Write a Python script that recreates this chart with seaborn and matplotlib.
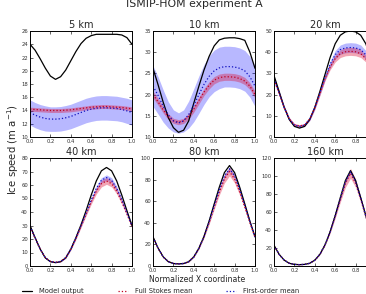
import matplotlib
matplotlib.use("Agg")
import matplotlib.pyplot as plt
import seaborn as sns

# normalized x coordinate along the flow line
x_norm = [0.0, 0.05, 0.1, 0.15, 0.2, 0.25, 0.3, 0.35, 0.4, 0.45, 0.5,
          0.55, 0.6, 0.65, 0.7, 0.75, 0.8, 0.85, 0.9, 0.95, 1.0]

lengths = ["5 km", "10 km", "20 km", "40 km", "80 km", "160 km"]

# 5 km
u5_model = [24.0, 23.1, 21.8, 20.4, 19.2, 18.7, 19.1, 20.1, 21.5, 22.9, 24.1,
            24.9, 25.3, 25.5, 25.5, 25.5, 25.5, 25.5, 25.4, 25.0, 24.0]
u5_fs = [14.2, 14.15, 14.1, 14.05, 14.0, 14.0, 14.0, 14.05, 14.1, 14.2, 14.3,
         14.4, 14.5, 14.55, 14.6, 14.6, 14.55, 14.5, 14.45, 14.35, 14.25]
u5_fs_sd = [0.3, 0.3, 0.3, 0.3, 0.3, 0.3, 0.3, 0.3, 0.3, 0.3, 0.3,
            0.3, 0.3, 0.3, 0.3, 0.3, 0.3, 0.3, 0.3, 0.3, 0.3]
u5_fo = [13.7, 13.3, 13.0, 12.8, 12.7, 12.7, 12.75, 12.9, 13.1, 13.4, 13.7,
         14.0, 14.2, 14.35, 14.4, 14.4, 14.35, 14.3, 14.15, 13.95, 13.7]
u5_fo_sd = [1.9, 1.9, 1.9, 1.9, 1.85, 1.85, 1.85, 1.85, 1.85, 1.85, 1.85,
            1.85, 1.85, 1.85, 1.85, 1.85, 1.85, 1.85, 1.85, 1.9, 1.9]

# 10 km
u10_model = [26.2, 22.3, 18.2, 14.6, 12.2, 11.1, 11.6, 13.8, 18.0, 22.0, 25.8,
             29.0, 31.5, 32.9, 33.3, 33.4, 33.4, 33.2, 32.8, 30.0, 26.2]
u10_fs = [20.0, 18.3, 16.4, 14.8, 13.8, 13.5, 13.8, 14.9, 16.6, 18.6, 20.6,
          22.2, 23.4, 24.0, 24.2, 24.2, 24.1, 23.8, 23.2, 22.0, 20.0]
u10_fs_sd = [0.8, 0.8, 0.75, 0.7, 0.6, 0.6, 0.6, 0.7, 0.75, 0.8, 0.8,
             0.85, 0.85, 0.85, 0.85, 0.85, 0.85, 0.85, 0.85, 0.8, 0.8]
u10_fo = [22.0, 19.8, 17.3, 15.2, 13.8, 13.3, 13.8, 15.3, 17.5, 20.0, 22.4,
          24.3, 25.6, 26.3, 26.6, 26.6, 26.5, 26.2, 25.6, 24.2, 22.0]
u10_fo_sd = [4.8, 4.4, 3.8, 3.1, 2.6, 2.4, 2.6, 3.2, 3.9, 4.4, 4.7,
             4.8, 4.9, 4.9, 4.8, 4.8, 4.8, 4.8, 4.8, 4.8, 4.8]

# 20 km
u20_model = [29.0, 21.5, 14.0, 8.2, 5.0, 4.2, 5.0, 8.2, 14.0, 21.5, 29.5,
             37.5, 44.0, 48.0, 49.6, 50.0, 49.6, 48.0, 44.0, 37.0, 29.0]
u20_fs = [27.0, 20.5, 13.8, 8.5, 5.8, 5.2, 5.8, 8.5, 13.8, 20.5, 27.5,
          33.0, 37.0, 39.3, 40.2, 40.4, 40.2, 39.3, 37.0, 33.0, 27.0]
u20_fs_sd = [1.0, 0.9, 0.8, 0.7, 0.6, 0.6, 0.6, 0.7, 0.8, 0.9, 1.0,
             1.3, 1.6, 1.8, 1.9, 1.9, 1.9, 1.8, 1.6, 1.3, 1.0]
u20_fo = [27.5, 20.8, 13.9, 8.4, 5.6, 5.0, 5.6, 8.4, 13.9, 20.8, 28.0,
          34.2, 38.8, 41.2, 42.0, 42.2, 42.0, 41.2, 38.8, 34.2, 27.5]
u20_fo_sd = [1.2, 1.0, 0.9, 0.7, 0.6, 0.6, 0.6, 0.7, 0.9, 1.0, 1.2,
             1.6, 2.0, 2.2, 2.3, 2.3, 2.3, 2.2, 2.0, 1.6, 1.2]

# 40 km
u40_model = [30.0, 21.0, 12.5, 6.0, 3.2, 2.5, 3.2, 6.0, 12.5, 21.0, 30.5,
             41.0, 52.5, 63.0, 70.5, 73.0, 70.5, 63.0, 52.5, 41.0, 30.0]
u40_fs = [29.0, 20.5, 12.4, 6.2, 3.4, 2.8, 3.4, 6.2, 12.4, 20.5, 29.5,
          38.5, 47.5, 55.5, 61.0, 63.0, 61.0, 55.5, 47.5, 38.5, 29.0]
u40_fs_sd = [1.0, 0.8, 0.6, 0.5, 0.4, 0.4, 0.4, 0.5, 0.6, 0.8, 1.0,
             1.3, 1.7, 2.1, 2.4, 2.5, 2.4, 2.1, 1.7, 1.3, 1.0]
u40_fo = [29.5, 20.8, 12.5, 6.1, 3.3, 2.7, 3.3, 6.1, 12.5, 20.8, 30.0,
          39.5, 49.0, 57.5, 63.5, 65.5, 63.5, 57.5, 49.0, 39.5, 29.5]
u40_fo_sd = [0.8, 0.6, 0.5, 0.4, 0.3, 0.3, 0.3, 0.4, 0.5, 0.6, 0.8,
             1.0, 1.3, 1.6, 1.9, 2.0, 1.9, 1.6, 1.3, 1.0, 0.8]

# 80 km
u80_model = [27.0, 16.5, 8.5, 4.0, 2.3, 2.0, 2.3, 4.0, 8.5, 16.5, 27.5,
             41.5, 57.5, 73.0, 86.5, 93.0, 86.5, 73.0, 57.5, 41.5, 27.0]
u80_fs = [26.5, 16.3, 8.4, 4.0, 2.4, 2.1, 2.4, 4.0, 8.4, 16.3, 27.0,
          40.0, 54.5, 68.5, 80.5, 87.5, 80.5, 68.5, 54.5, 40.0, 26.5]
u80_fs_sd = [0.8, 0.6, 0.4, 0.3, 0.2, 0.2, 0.2, 0.3, 0.4, 0.6, 0.8,
             1.3, 2.0, 2.8, 3.6, 4.0, 3.6, 2.8, 2.0, 1.3, 0.8]
u80_fo = [26.8, 16.4, 8.4, 4.0, 2.3, 2.0, 2.3, 4.0, 8.4, 16.4, 27.2,
          41.0, 56.0, 71.0, 83.5, 90.0, 83.5, 71.0, 56.0, 41.0, 26.8]
u80_fo_sd = [0.5, 0.4, 0.3, 0.2, 0.2, 0.2, 0.2, 0.2, 0.3, 0.4, 0.5,
             0.7, 1.0, 1.3, 1.6, 1.8, 1.6, 1.3, 1.0, 0.7, 0.5]

# 160 km
u160_model = [23.0, 13.0, 6.5, 3.0, 1.8, 1.5, 1.8, 3.0, 6.5, 13.0, 23.5,
              38.0, 56.0, 76.0, 95.0, 106.0, 95.0, 76.0, 56.0, 38.0, 23.0]
u160_fs = [22.8, 12.9, 6.5, 3.0, 1.8, 1.5, 1.8, 3.0, 6.5, 12.9, 23.3,
           37.5, 55.0, 74.0, 92.0, 103.0, 92.0, 74.0, 55.0, 37.5, 22.8]
u160_fs_sd = [0.5, 0.3, 0.2, 0.1, 0.1, 0.1, 0.1, 0.1, 0.2, 0.3, 0.5,
              1.0, 1.8, 3.0, 4.5, 5.5, 4.5, 3.0, 1.8, 1.0, 0.5]
u160_fo = [22.9, 13.0, 6.5, 3.0, 1.8, 1.5, 1.8, 3.0, 6.5, 13.0, 23.4,
           37.8, 55.6, 75.2, 93.8, 105.0, 93.8, 75.2, 55.6, 37.8, 22.9]
u160_fo_sd = [0.3, 0.2, 0.1, 0.1, 0.1, 0.1, 0.1, 0.1, 0.1, 0.2, 0.3,
              0.5, 0.8, 1.2, 1.6, 2.0, 1.6, 1.2, 0.8, 0.5, 0.3]

y_limits = [(10, 26), (10, 35), (0, 50), (0, 80), (0, 100), (0, 120)]
y_steps = [2, 5, 10, 10, 20, 20]

panels = [
    (u5_model, u5_fs, u5_fs_sd, u5_fo, u5_fo_sd),
    (u10_model, u10_fs, u10_fs_sd, u10_fo, u10_fo_sd),
    (u20_model, u20_fs, u20_fs_sd, u20_fo, u20_fo_sd),
    (u40_model, u40_fs, u40_fs_sd, u40_fo, u40_fo_sd),
    (u80_model, u80_fs, u80_fs_sd, u80_fo, u80_fo_sd),
    (u160_model, u160_fs, u160_fs_sd, u160_fo, u160_fo_sd),
]

sns.set_style("ticks")
plt.rcParams["font.family"] = ["DejaVu Sans"]
plt.rcParams["xtick.direction"] = "in"
plt.rcParams["ytick.direction"] = "in"
plt.rcParams["xtick.top"] = True
plt.rcParams["ytick.right"] = True

W, H = 366, 294
fig = plt.figure(figsize=(W / 100, H / 100), dpi=100)

lefts = [30, 153, 274]
tops = [31, 158]
heights = [106, 108]
pw = 102

axes = []
for i in range(6):
    r, c = divmod(i, 3)
    ax = fig.add_axes([lefts[c] / W, 1 - (tops[r] + heights[r]) / H,
                       pw / W, heights[r] / H])
    axes.append(ax)

for ax, name, (model, fs, fs_sd, fo, fo_sd), ylim, ystep in zip(
        axes, lengths, panels, y_limits, y_steps):
    fo_lo = [m - s for m, s in zip(fo, fo_sd)]
    fo_hi = [m + s for m, s in zip(fo, fo_sd)]
    fs_lo = [m - s for m, s in zip(fs, fs_sd)]
    fs_hi = [m + s for m, s in zip(fs, fs_sd)]
    ax.fill_between(x_norm, fo_lo, fo_hi, color="blue", alpha=0.28, lw=0)
    ax.fill_between(x_norm, fs_lo, fs_hi, color="crimson", alpha=0.38, lw=0)
    sns.lineplot(x=x_norm, y=model, ax=ax, color="black", lw=0.9,
                 label="Model output", legend=False)
    sns.lineplot(x=x_norm, y=fs, ax=ax, color="#c00020", lw=0.9,
                 linestyle=":", label="Full Stokes mean", legend=False)
    sns.lineplot(x=x_norm, y=fo, ax=ax, color="#1010c0", lw=0.9,
                 linestyle=":", label="First-order mean", legend=False)
    ax.set_xlim(0, 1)
    ax.set_ylim(*ylim)
    ax.set_xticks([0.0, 0.2, 0.4, 0.6, 0.8, 1.0])
    ax.set_yticks(list(range(ylim[0], ylim[1] + 1, ystep)))
    ax.set_title(name, fontsize=7, pad=2.5)
    ax.tick_params(labelsize=3.8, length=2.5, width=0.5, pad=1.5,
                   labelcolor="#333333")
    for sp in ax.spines.values():
        sp.set_linewidth(0.7)
        sp.set_color("black")
    ax.set_xlabel("")
    ax.set_ylabel("")

# the right-most column runs past the figure edge, as in the original crop
for ax in axes[2::3]:
    ax.set_xticks([0.0, 0.2, 0.4, 0.6, 0.8])

fig.text(194.5 / W, 1 - 7 / H, "ISMIP-HOM experiment A", ha="center",
         va="baseline", fontsize=7.8)
fig.text(197 / W, 1 - 279 / H, "Normalized X coordinate", ha="center",
         va="center", fontsize=5.6)
fig.text(13 / W, 1 - 150 / H, "Ice speed (m a$^{-1}$)", ha="center",
         va="center", rotation=90, fontsize=7.3)

handles = axes[0].get_lines()[:3]
fig.legend(handles, ["Model output", "Full Stokes mean", "First-order mean"],
           loc="upper left", bbox_to_anchor=(22 / W, 1 - 288 / H),
           ncol=3, frameon=False, fontsize=4.9, borderpad=0,
           borderaxespad=0, handlelength=1.5, handletextpad=1.0,
           columnspacing=5.0)

fig.savefig("out.png", dpi=100)
